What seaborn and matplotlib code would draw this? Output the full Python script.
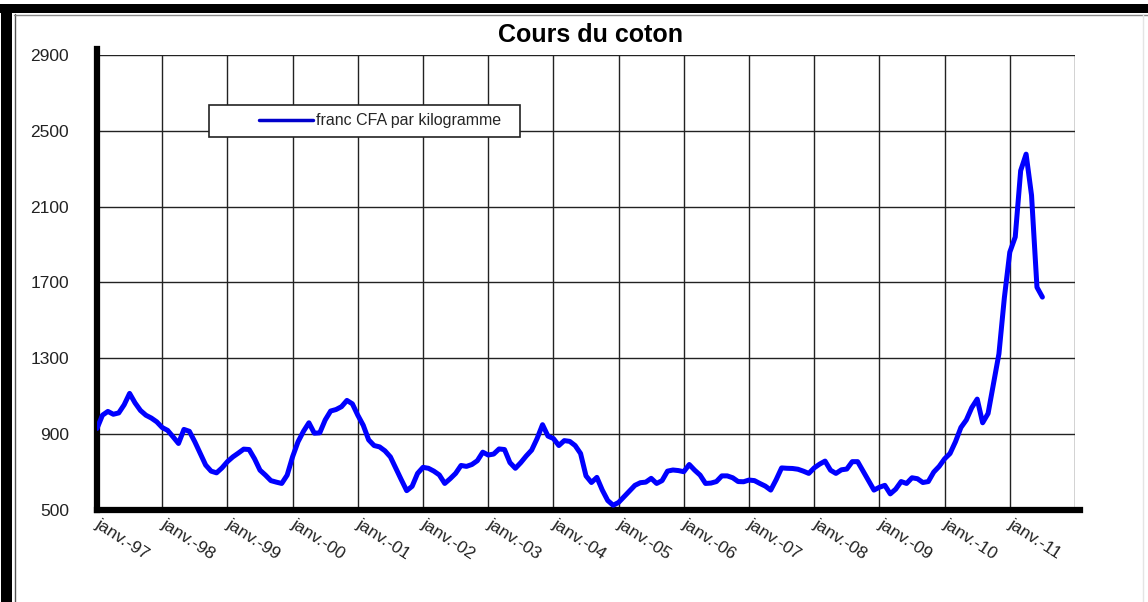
import numpy as np
import pandas as pd
import matplotlib
matplotlib.use('Agg')
import matplotlib.pyplot as plt
from matplotlib.patches import Rectangle
from matplotlib.lines import Line2D
import seaborn as sns

sns.set_theme(style='white')
plt.rcParams['font.family'] = ['Liberation Sans', 'DejaVu Sans']

# monthly price, jan. 1997 -> juil. 2011 (franc CFA / kg)
prix = [930, 1000, 1020, 1005, 1012, 1055, 1115, 1065, 1025, 1000, 985, 965,
        935, 920, 886, 851, 925, 915, 860, 798, 737, 705, 696, 722,
        755, 780, 800, 821, 819, 770, 710, 684, 655, 647, 640, 684,
        781, 860, 915, 960, 905, 907, 975, 1022, 1030, 1045, 1078, 1060,
        1000, 947, 870, 840, 833, 812, 780, 720, 660, 602, 625, 693,
        725, 720, 705, 685, 640, 665, 693, 735, 730, 740, 760, 805,
        790, 795, 822, 819, 750, 720, 750, 785, 816, 877, 950, 890,
        877, 840, 866, 862, 840, 798, 680, 645, 672, 605, 550, 525,
        540, 570, 600, 630, 644, 647, 667, 640, 655, 705, 711, 708,
        702, 740, 710, 684, 640, 642, 650, 680, 680, 670, 650, 649,
        658, 655, 640, 626, 605, 660, 722, 720, 719, 715, 705, 693,
        722, 742, 758, 710, 693, 712, 716, 755, 755, 705, 655, 605,
        620, 630, 585, 610, 650, 640, 670, 665, 645, 650, 700, 730,
        770, 798, 860, 935, 975, 1040, 1085, 960, 1009, 1167, 1324, 1620,
        1860, 1940, 2290, 2377, 2160, 1675, 1623]
mois = list(range(len(prix)))

annees = ['janv.-97', 'janv.-98', 'janv.-99', 'janv.-00', 'janv.-01',
          'janv.-02', 'janv.-03', 'janv.-04', 'janv.-05', 'janv.-06',
          'janv.-07', 'janv.-08', 'janv.-09', 'janv.-10', 'janv.-11']
yticks = [500, 900, 1300, 1700, 2100, 2500, 2900]
serie = 'franc CFA par kilogramme'

df = pd.DataFrame({'mois': mois, 'prix': prix})

W, H = 1148, 602
fig = plt.figure(figsize=(W / 100, H / 100), dpi=100)
ax = fig.add_axes([97 / W, 1 - 510 / H, (1075 - 97) / W, (510 - 55) / H])

sns.lineplot(data=df, x='mois', y='prix', color='#0000ff', linewidth=3.6,
             ax=ax, legend=False, zorder=3)

ax.set_xlim(0, 12 * len(annees))
ax.set_ylim(yticks[0], yticks[-1])
ax.set_xticks([12 * i for i in range(len(annees))])
ax.set_xticklabels(annees, rotation=-33, ha='left', va='center',
                   rotation_mode='anchor', fontsize=12.5, color='#222222')
ax.set_yticks(yticks)
ax.set_yticklabels([str(v) for v in yticks], fontsize=12.5, color='#222222')
ax.tick_params(axis='y', length=0, pad=20)
ax.tick_params(axis='x', length=0, pad=9)
ax.set_xlabel('')
ax.set_ylabel('')

# grid
for v in yticks:
    ax.axhline(v, color='#222222', lw=1, zorder=1)
for i in range(len(annees) + 1):
    ax.axvline(12 * i, color='#222222', lw=1, zorder=1)

for s in ['top', 'right']:
    ax.spines[s].set_visible(False)
for s in ['left', 'bottom']:
    ax.spines[s].set_color('black')
    ax.spines[s].set_linewidth(4.5)
    ax.spines[s].set_capstyle('projecting')
ax.spines['bottom'].set_bounds(0, 12 * len(annees) + 1)
ax.spines['left'].set_bounds(yticks[0], yticks[-1] + 30)

fig.text(590 / W, 1 - 35 / H, 'Cours du coton', ha='center', va='center',
         fontsize=18, fontweight='bold', color='black')

# legend box
fig.patches.append(Rectangle((209 / W, 1 - 137 / H), (520 - 209) / W, 32 / H,
                             transform=fig.transFigure, facecolor='white',
                             edgecolor='#222222', lw=1.2, zorder=4))
h = Line2D([], [], color='#0000cc', lw=2.5)
fig.legend([h], [serie], loc='center left',
           bbox_to_anchor=(259 / W, 1 - 121 / H), frameon=False,
           borderpad=0, borderaxespad=0, handlelength=3.4,
           handletextpad=0.2, fontsize=11.5)

# frame around the picture
fig.patches.append(Rectangle((0, 1 - 13 / H), 1, 9 / H, transform=fig.transFigure,
                             facecolor='black', edgecolor='none', zorder=10))
fig.patches.append(Rectangle((1 / W, 0), 11 / W, 1 - 4 / H, transform=fig.transFigure,
                             facecolor='black', edgecolor='none', zorder=10))
fig.lines.append(Line2D([14.5 / W, 14.5 / W], [0, 1 - 14 / H], transform=fig.transFigure,
                        color='#555555', lw=1, zorder=10))
fig.lines.append(Line2D([14 / W, 1], [1 - 14.5 / H, 1 - 14.5 / H], transform=fig.transFigure,
                        color='#888888', lw=1, zorder=10))
fig.lines.append(Line2D([1143 / W, 1143 / W], [0, 1 - 14 / H], transform=fig.transFigure,
                        color='#e4e4e4', lw=1, zorder=10))

plt.savefig('out.png', dpi=100)
